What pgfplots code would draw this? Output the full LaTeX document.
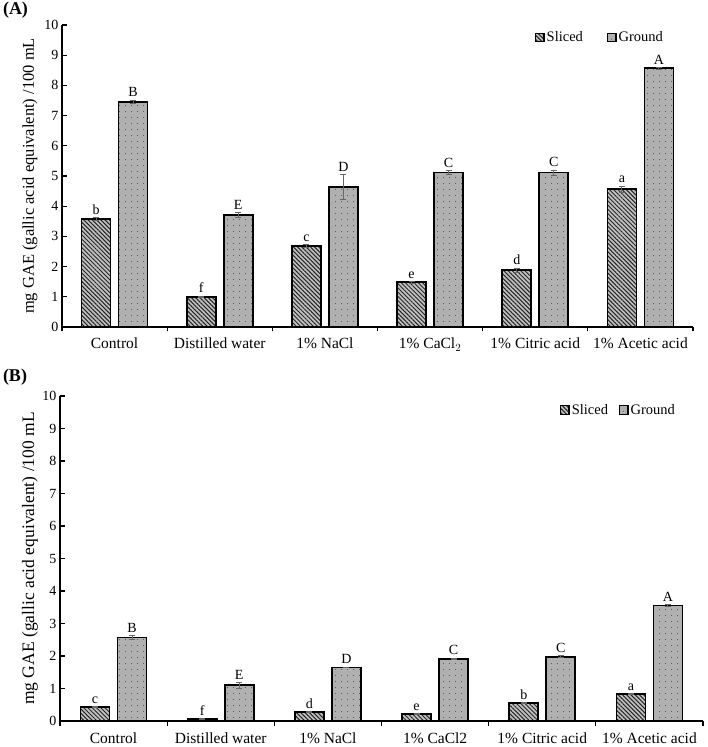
\documentclass[border=0pt]{standalone}
\usepackage{pgfplots}
\pgfplotsset{compat=1.18}
\usepackage{pgfplotstable}
\usepackage{fontspec}
\setmainfont{Liberation Serif}
\usetikzlibrary{patterns.meta}

\pgfplotstableread{
x y e ly lab
0 3.57 0.05 3.62 b
1 1.00 0.02 1.02 f
2 2.68 0.04 2.72 c
3 1.48 0.03 1.51 e
4 1.88 0.07 1.95 d
5 4.56 0.10 4.66 a
}\slicedA
\pgfplotstableread{
x y e ly lab
0 7.46 0.05 7.51 B
1 3.71 0.07 3.78 E
2 4.63 0.42 5.05 D
3 5.11 0.07 5.18 C
4 5.11 0.08 5.19 C
5 8.57 0.03 8.60 A
}\groundA
\pgfplotstableread{
x y e ly lab
0 0.43 0.01 0.44 c
1 0.07 0.01 0.08 f
2 0.28 0.01 0.29 d
3 0.22 0.01 0.23 e
4 0.56 0.01 0.57 b
5 0.83 0.01 0.84 a
}\slicedB
\pgfplotstableread{
x y e ly lab
0 2.57 0.06 2.63 B
1 1.10 0.09 1.19 E
2 1.65 0.01 1.66 D
3 1.91 0.02 1.93 C
4 1.97 0.03 2.00 C
5 3.55 0.02 3.57 A
}\groundB

\pgfplotsset{
  legimg/.style={legend image code/.code={\draw[##1, line width=1.3bp] (0bp,-4.2bp) rectangle (8.4bp,4.2bp);}},
  errs/.style={error bars/y dir=both, error bars/y explicit,
    error bars/error bar style={line width=1bp, black!60},
    error bars/error mark options={rotate=90, mark size=3bp, line width=1bp, black!60}},
  sliced/.style={draw=black, line width=1.6bp, fill=gray!50, bar shift=-18.5bp,
    postaction={pattern={Lines[angle=-45,distance=3bp,line width=1bp]}, pattern color=black!85}, legimg, errs},
  ground/.style={draw=black, line width=1.6bp, fill=gray!62, bar shift=18.5bp,
    postaction={pattern={Dots[distance=6bp,radius=0.55bp]}, pattern color=black!75}, legimg, errs},
  labs/.style={draw=none, fill=none, forget plot, bar shift=#1,
    nodes near coords, point meta=explicit symbolic,
    every node near coord/.append style={font=\fontsize{14bp}{16bp}\selectfont, anchor=south, inner sep=3bp, black}},
  panel/.style={
    scale only axis,
    xmin=-0.5, xmax=5.5, ymin=0, ymax=10,
    axis x line=bottom, axis y line=left,
    axis line style={-, line width=1.8bp, black},
    ytick={0,1,...,10},
    tick align=inside,
    major tick length=4.5bp,
    tick style={line width=1.3bp, black},
    xtick={-0.5,0.5,...,5.5},
    xticklabels={},
    extra x ticks={0,1,2,3,4,5},
    extra x tick style={major tick length=0pt},
    /pgf/number format/assume math mode=true,
    yticklabel style={font=\fontsize{14bp}{16bp}\selectfont},
    xticklabel style={font=\fontsize{15.5bp}{18bp}\selectfont, anchor=base, yshift=-22bp},
    ylabel={mg GAE (gallic acid equivalent) /100 mL},
    ybar, bar width=29bp,
    legend columns=2,
    legend style={draw=none, fill=none, font=\fontsize{14.5bp}{17bp}\selectfont, anchor=center},
  }
}

\begin{document}
\begin{tikzpicture}
\useasboundingbox (0,0) rectangle (708bp,747bp);
\begin{axis}[panel,
  at={(62bp,420bp)}, anchor=south west,
  width=631bp, height=302bp,
  extra x tick labels={Control, Distilled water, 1\% NaCl, 1\% CaCl$_2$, 1\% Citric acid, 1\% Acetic acid},
  every axis y label/.style={at={(axis description cs:-0.0507,0.5)}, rotate=90, anchor=center, font=\fontsize{16.5bp}{19bp}\selectfont},
  legend style={at={(axis description cs:0.8526,0.9586)}, /tikz/every even column/.append style={column sep=22bp}},
]
\addplot[sliced] table[x=x, y=y, y error=e] {\slicedA};
\addplot[ground] table[x=x, y=y, y error=e] {\groundA};
\addplot[labs=-18.5bp] table[x=x, y=ly, meta=lab] {\slicedA};
\addplot[labs=18.5bp] table[x=x, y=ly, meta=lab] {\groundA};
\legend{Sliced, Ground}
\end{axis}

\begin{axis}[panel,
  at={(60bp,26bp)}, anchor=south west,
  width=643bp, height=325bp,
  extra x tick labels={Control, Distilled water, 1\% NaCl, 1\% CaCl2, 1\% Citric acid, 1\% Acetic acid},
  xticklabel style={yshift=-0.5bp},
  every axis y label/.style={at={(axis description cs:-0.0467,0.5)}, rotate=90, anchor=center, font=\fontsize{17.5bp}{20bp}\selectfont},
  legend style={at={(axis description cs:0.8686,0.957)}, /tikz/every even column/.append style={column sep=9bp}},
]
\addplot[sliced] table[x=x, y=y, y error=e] {\slicedB};
\addplot[ground] table[x=x, y=y, y error=e] {\groundB};
\addplot[labs=-18.5bp] table[x=x, y=ly, meta=lab] {\slicedB};
\addplot[labs=18.5bp] table[x=x, y=ly, meta=lab] {\groundB};
\legend{Sliced, Ground}
\end{axis}

\node[font=\bfseries\fontsize{18bp}{20bp}\selectfont] at (15.5bp,737bp) {(A)};
\node[font=\bfseries\fontsize{18bp}{20bp}\selectfont] at (15bp,370bp) {(B)};
\end{tikzpicture}
\end{document}
